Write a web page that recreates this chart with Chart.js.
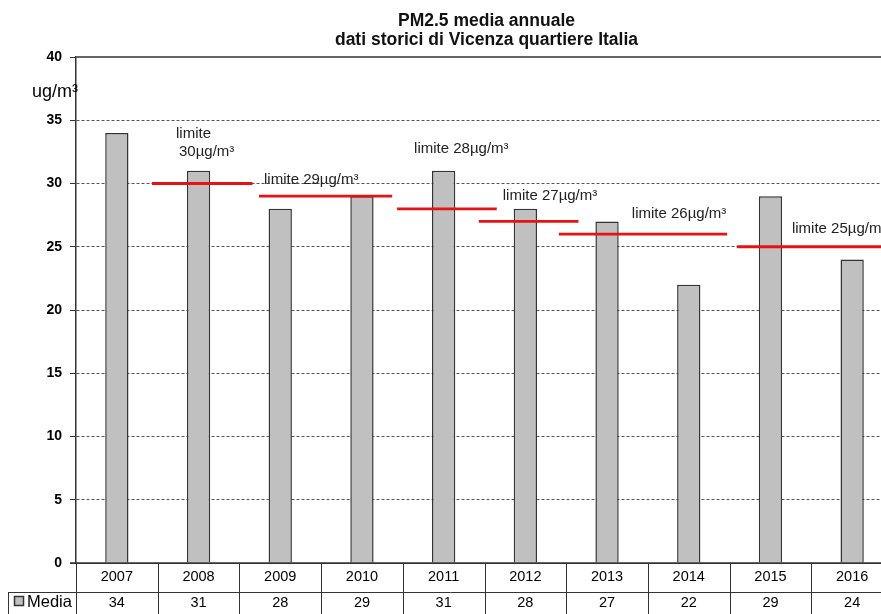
<!DOCTYPE html>
<html>
<head>
<meta charset="utf-8">
<title>PM2.5 media annuale</title>
<script src="https://cdn.jsdelivr.net/npm/chart.js@4.4.1/dist/chart.umd.min.js"></script>
<style>
  html, body { margin: 0; padding: 0; overflow: hidden; background: #fff; }
  canvas { display: block; }
</style>
</head>
<body>
<canvas id="pmChart" width="896" height="624"></canvas>
<script>
/* ------------------------------
   DATA
------------------------------ */
const years = ['2007', '2008', '2009', '2010', '2011', '2012', '2013', '2014', '2015', '2016'];
const media = [34, 31, 28, 29, 31, 28, 27, 22, 29, 24];
const seriesName = 'Media';

// yearly legal limit, drawn as a short segment between the columns (in category units)
const limitValues = [30, 29, 28, 27, 26, 25];
const limitStart = [0.43, 1.74, 3.43, 4.43, 5.41, 7.59];
const limitEnd = [1.66, 3.37, 4.65, 5.65, 7.47, 9.5];

const yMin = 0, yMax = 40, yStep = 5;
const titleLines = ['PM2.5 media annuale', 'dati storici di Vicenza quartiere Italia'];
const unitLabel = 'ug/m³';

/* ------------------------------
   STYLE
------------------------------ */
const FAM = "'Liberation Sans', Arial, sans-serif";
const BAR_FILL = '#c0c0c0';
const LINE_DARK = '#333';
const LIMIT_RED = 'rgb(232,18,18)';

// text placement for each limit label, relative to the start of its segment
const labelOffsets = [
  { lines: [[24, -50], [27, -32]] },
  { lines: [[5, -16]] },
  { lines: [[17, -60]] },
  { lines: [[24, -26]] },
  { lines: [[73, -20]] },
  { lines: [[55, -18]] }
];

/* ------------------------------
   DECORATIONS: title, unit, limit labels, data table
------------------------------ */
const decorPlugin = {
  id: 'pmDecor',
  afterDraw(chart) {
    const { ctx, chartArea: ca, scales } = chart;
    const x = scales.x, y = scales.y, xl = scales.xl;
    const H = chart.height;
    const colW = (ca.right - ca.left) / years.length;

    ctx.save();

    // title
    ctx.fillStyle = '#111';
    ctx.font = 'bold 17.5px ' + FAM;
    ctx.textAlign = 'center';
    ctx.textBaseline = 'middle';
    const cx = (ca.left + ca.right) / 2 + 2;
    ctx.fillText(titleLines[0], cx, 21);
    ctx.fillText(titleLines[1], cx, 40);

    // unit label
    ctx.font = '18px ' + FAM;
    ctx.textAlign = 'left';
    ctx.textBaseline = 'alphabetic';
    ctx.fillStyle = '#000';
    ctx.fillText(unitLabel, 32, 97);

    // solid top border of the plot
    ctx.strokeStyle = '#666';
    ctx.lineWidth = 2;
    ctx.beginPath();
    ctx.moveTo(ca.left, ca.top);
    ctx.lineTo(ca.right, ca.top);
    ctx.stroke();

    // limit labels
    ctx.font = '15px ' + FAM;
    ctx.fillStyle = '#222';
    ctx.textBaseline = 'middle';
    limitValues.forEach((v, i) => {
      const px = xl.getPixelForValue(limitStart[i]);
      const py = y.getPixelForValue(v);
      const offs = labelOffsets[i].lines;
      const texts = offs.length > 1 ? ['limite', v + 'µg/m³'] : ['limite ' + v + 'µg/m³'];
      texts.forEach((t, k) => ctx.fillText(t, px + offs[k][0], py + offs[k][1]));
    });

    // data table under the x axis
    const r1 = ca.bottom, r2 = ca.bottom + 29, legendLeft = 8;
    ctx.strokeStyle = LINE_DARK;
    ctx.lineWidth = 1;
    ctx.beginPath();
    ctx.moveTo(ca.left, r1 + 0.5); ctx.lineTo(ca.right, r1 + 0.5);
    ctx.moveTo(legendLeft, r2 + 0.5); ctx.lineTo(ca.right, r2 + 0.5);
    ctx.moveTo(legendLeft + 0.5, r2); ctx.lineTo(legendLeft + 0.5, H);
    ctx.moveTo(ca.left + 0.5, r1); ctx.lineTo(ca.left + 0.5, H);
    years.forEach((yr, i) => {
      const bx = Math.round(x.getPixelForValue(i) + colW / 2) + 0.5;
      ctx.moveTo(bx, r1); ctx.lineTo(bx, H);
    });
    ctx.stroke();

    // axis line on top of the table
    ctx.lineWidth = 1.5;
    ctx.beginPath();
    ctx.moveTo(ca.left - 6, r1); ctx.lineTo(ca.right, r1);
    ctx.stroke();

    ctx.fillStyle = '#000';
    ctx.font = '14.5px ' + FAM;
    ctx.textAlign = 'center';
    ctx.textBaseline = 'middle';
    years.forEach((yr, i) => {
      const px = x.getPixelForValue(i);
      ctx.fillText(yr, px, r1 + 14);
      ctx.fillText(String(media[i]), px, r2 + 11);
    });

    // legend key
    ctx.fillStyle = BAR_FILL;
    ctx.fillRect(14.5, r2 + 4.5, 9, 9);
    ctx.strokeRect(14.5, r2 + 4.5, 9, 9);
    ctx.fillStyle = '#000';
    ctx.font = '16.5px ' + FAM;
    ctx.textAlign = 'left';
    ctx.fillText(seriesName, 27, r2 + 10);

    ctx.restore();
  }
};

/* ------------------------------
   CHART
------------------------------ */
const limitSets = limitValues.map((v, i) => ({
  type: 'line',
  xAxisID: 'xl',
  yAxisID: 'y',
  data: [{ x: limitStart[i], y: v }, { x: limitEnd[i], y: v }],
  borderColor: LIMIT_RED,
  borderWidth: 2.8,
  pointRadius: 0,
  order: 0
}));

new Chart(document.getElementById('pmChart'), {
  type: 'bar',
  data: {
    labels: years,
    datasets: [{
      label: seriesName,
      data: media,
      xAxisID: 'x',
      yAxisID: 'y',
      backgroundColor: BAR_FILL,
      borderColor: LINE_DARK,
      borderWidth: 1.5,
      barPercentage: 0.285,
      categoryPercentage: 1,
      grouped: false,
      order: 1
    }, ...limitSets]
  },
  options: {
    responsive: false,
    animation: false,
    layout: { padding: { top: 57, right: 3, bottom: 61, left: 0 } },
    plugins: {
      legend: { display: false },
      tooltip: { enabled: false },
      title: { display: false }
    },
    scales: {
      x: { type: 'category', display: false, offset: true },
      xl: { type: 'linear', display: false, min: -0.5, max: years.length - 0.5, offset: false },
      y: {
        min: yMin,
        max: yMax,
        ticks: {
          stepSize: yStep,
          color: '#000',
          font: { family: FAM, size: 14, weight: 'bold' },
          padding: 8
        },
        grid: {
          color: c => (c.tick && (c.tick.value === yMin || c.tick.value === yMax)) ? 'rgba(0,0,0,0)' : '#555',
          tickColor: LINE_DARK,
          tickLength: 6,
          lineWidth: 1
        },
        border: { color: LINE_DARK, width: 1.5, dash: [3, 2] },
        afterFit: s => { s.width = 76; }
      }
    }
  },
  plugins: [decorPlugin]
});
</script>
</body>
</html>
